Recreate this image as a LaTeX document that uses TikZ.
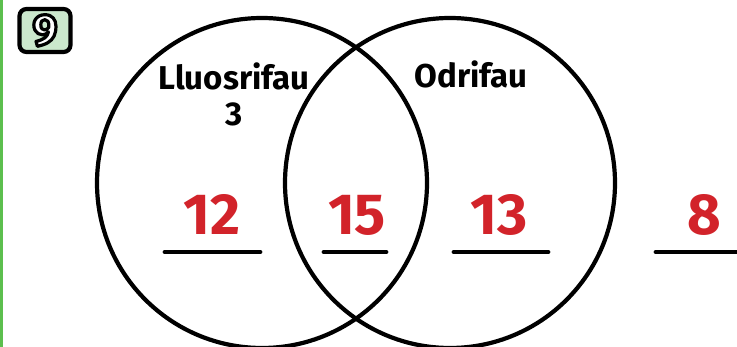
\documentclass[tikz,border=0pt]{standalone}
\usepackage{fontspec}
\setmainfont{Fira Sans}
\definecolor{Nc}{HTML}{D2232A}
\definecolor{Gc}{HTML}{5CBF4E}
\definecolor{Bx}{HTML}{CBE8CC}
% white digit with a black outline (text render mode 2)
\newcommand{\outlined}[1]{{\color{white}\special{pdf:literal direct 0 G 3.2 w 1 j 2 Tr}#1\special{pdf:literal direct 0 Tr}}}
\tikzset{
  venn/.style={draw=black, line width=4.2pt},
  lbl/.style={anchor=base, font=\fontsize{33}{36}\selectfont\bfseries},
  num/.style={anchor=base, text=Nc, font=\fontsize{58}{60}\selectfont\bfseries},
  blank/.style={line width=4.8pt, line cap=round},
}
\begin{document}
\begin{tikzpicture}[x=1pt, y=-1pt]
  \useasboundingbox (0,0) rectangle (737,347);
  \draw[Gc, line width=3pt] (1.5,0) -- (1.5,347);
  % question badge
  \draw[line width=4.2pt, fill=Bx, rounded corners=7pt] (19.5,9) rectangle (70.5,52);
  \node[font=\fontsize{44}{46}\selectfont\bfseries] (qno) at (45,30.5) {\outlined{9}};
  % two sets
  \draw[venn] (262,183) circle (165);
  \draw[venn] (450,183) circle (165);
  \node[lbl] (lA) at (234,90) {Lluosrifau};
  \node[lbl] (lA3) at (234,126) {3};
  \node[lbl] (lB) at (471,88) {Odrifau};
  % answers and their lines
  \foreach \n/\x/\a/\b in {12/212/165/260, 15/357/324/386, 13/499/454/548, 8/704/656/742}{
    \node[num] (n\n) at (\x,235) {\n};
    \draw[blank] (\a,252) -- (\b,252);
  }
\end{tikzpicture}
\end{document}
